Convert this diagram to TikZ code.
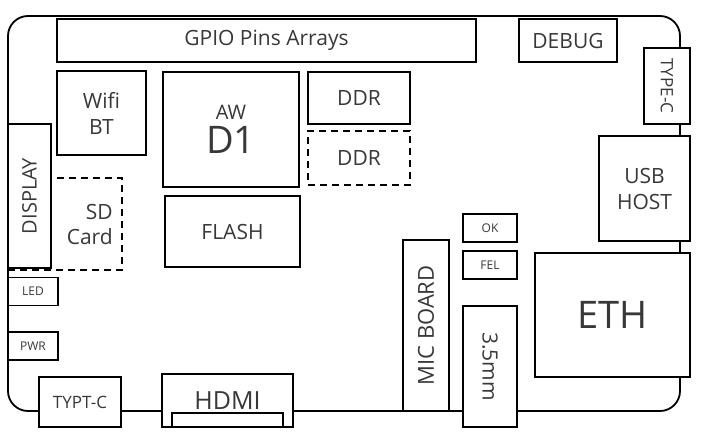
\documentclass[tikz,border=0pt]{standalone}
\usepackage{fontspec}
\setmainfont{Open Sans}
\usetikzlibrary{calc}
\definecolor{ink}{HTML}{383838}
\newcommand{\bsize}[2]{\fontsize{#1}{#2}\selectfont}

\begin{document}
\begin{tikzpicture}[x=1pt,y=-1pt,
  box/.style={draw,line width=1.8pt,fill=white,inner sep=0pt,text=ink,align=center,font=\bsize{21}{26}},
  dbox/.style={box,dash pattern=on 7pt off 5pt},
  small/.style={box,font=\bsize{12}{14}}]
\useasboundingbox (0,0) rectangle (703,444);
% board outline
\draw[line width=1.8pt, rounded corners=20pt] (8,16) rectangle (680,411);
% top row
\node[box, minimum width=419, minimum height=43] (gpio) at (266.5,40.5) {GPIO Pins Arrays};
\node[box, minimum width=98, minimum height=43] (debug) at (568,40.5) {DEBUG};
\node[box, rotate=-90, minimum width=76, minimum height=46, font=\bsize{17}{20}] (typec) at (667,86) {TYPE-C};
\node[box, minimum width=91, minimum height=105] (usb) at (644.5,188.5) {USB\\HOST};
% chips
\node[box, minimum width=89, minimum height=84] (wifi) at (101.5,113) {Wifi\\BT};
\node[box, minimum width=136, minimum height=115] (soc) at (231,129.5) {\bsize{20}{24}AW\\[6pt]\bsize{38}{38}D1};
\node[box, minimum width=102, minimum height=52] (ddra) at (359,98) {DDR};
\node[dbox, minimum width=102, minimum height=54] (ddrb) at (359,158) {DDR};
\node[box, minimum width=135, minimum height=71] (flash) at (232.5,231.5) {FLASH};
% left side
\node[dbox, minimum width=114, minimum height=92] (sd) at (65,224) {};
\node[text=ink, align=right, anchor=east, inner sep=0pt, font=\bsize{21}{25}] (sdtxt) at ($(sd.east)+(-10,0)$) {SD\\Card};
\node[box, rotate=90, minimum width=144, minimum height=43, font=\bsize{20}{24}] (disp) at (29.5,196) {DISPLAY};
\foreach \n/\t/\x/\y/\w in {led/LED/33/291.5/50, pwr/PWR/33/346/50, ok/OK/490/228/54, fel/FEL/490/265/54}
  \node[small, minimum width=\w, minimum height=28] (\n) at (\x,\y) {\t};
% bottom row
\node[box, minimum width=82, minimum height=50, font=\bsize{17}{20}] (typtc) at (80,402) {TYPT-C};
\node[box, minimum width=131, minimum height=53, font=\bsize{25}{28}] (hdmi) at (227.5,400.5) {HDMI};
\node[box, minimum width=111, minimum height=14] (hdmiport) at (227.5,420) {};
\node[box, rotate=90, minimum width=171, minimum height=46, font=\bsize{22}{26}] (mic) at (426,325.5) {MIC BOARD};
\node[box, rotate=-90, minimum width=121, minimum height=54, font=\bsize{21}{25}] (jack) at (490,366.5) {3.5mm};
\node[box, minimum width=155, minimum height=124, font=\bsize{38}{40}] (eth) at (612.5,315) {ETH};
\end{tikzpicture}
\end{document}
